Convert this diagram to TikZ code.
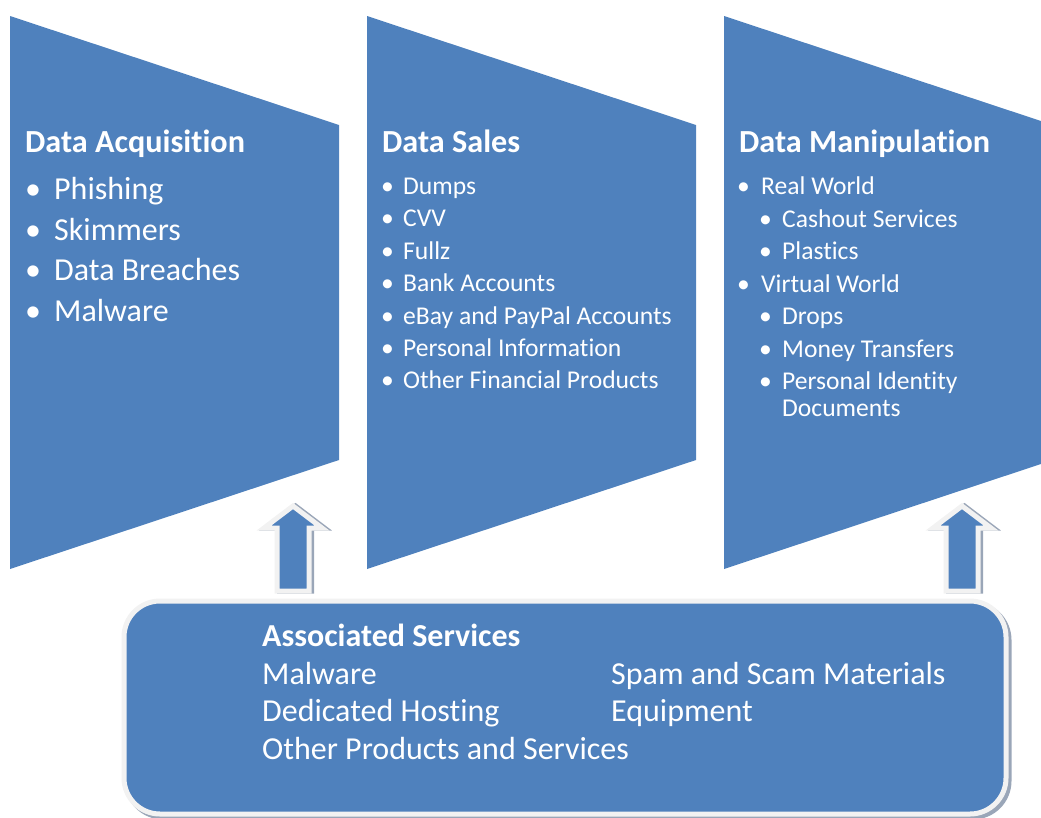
\documentclass[tikz,border=0pt]{standalone}
\usepackage{fontspec}
\setmainfont[Ligatures=NoCommon]{Carlito}
\definecolor{panel}{HTML}{4F81BD}
\definecolor{rim}{HTML}{F2F2F2}
\definecolor{shade}{HTML}{9AA6B8}
\tikzset{
  stagepanel/.style={fill=panel},
  txt/.style={anchor=base west, inner sep=0pt, text=white},
  headline/.style={txt, font=\fontsize{32.2}{38}\selectfont\bfseries},
  bigitem/.style={txt, font=\fontsize{32}{38}\selectfont},
  smallitem/.style={txt, font=\fontsize{25.6}{30}\selectfont},
  svctitle/.style={txt, font=\fontsize{32}{38}\selectfont\bfseries},
  svcitem/.style={txt, font=\fontsize{32}{38}\selectfont},
  rimline/.style={draw=rim, line width=5pt, line join=miter},
  shadowline/.style={draw=shade, fill=shade, line width=5pt, line join=miter},
}
% up arrow centred on #1
\newcommand\uparrowpath[1]{(#1,506) -- (#1+29,528) -- (#1+16,528) -- (#1+16,591) -- (#1-16,591) -- (#1-16,528) -- (#1-29,528) -- cycle}
\begin{document}
\begin{tikzpicture}[x=1pt,y=-1pt]
\useasboundingbox (0,0) rectangle (1041,817);
\clip (0,0) rectangle (1041,817);

% three stage panels
\foreach \x/\n in {10/acq,367/sales,724/manip}
  \fill[stagepanel] (\x,16) coordinate (\n) -- ++(329,109) -- ++(0,335) -- ++(-329,109) -- cycle;

% rising arrows
\foreach \c/\n in {293/arrA,962/arrB}{
  \path[shadowline] \uparrowpath{\c+2.5};
  \path[rimline, fill=panel] \uparrowpath{\c};
}

% associated services box
\path[shadowline, rounded corners=36pt] (127,604) rectangle (1009,817);
\path[rimline, fill=panel, rounded corners=36pt] (124,601) rectangle (1006,814);

% Data Acquisition
\node[headline] (acqT) at (25,152) {Data Acquisition};
\foreach \t [count=\i] in {Phishing,Skimmers,Data Breaches,Malware}{
  \node[bigitem] (acqB\i) at (25,159+40.5*\i) {•};
  \node[bigitem] (acqI\i) at (54,159+40.5*\i) {\t};
}

% Data Sales
\node[headline] (salT) at (382,152) {Data Sales};
\foreach \t [count=\i] in {Dumps,CVV,Fullz,Bank Accounts,eBay and PayPal Accounts,Personal Information,Other Financial Products}{
  \node[smallitem] (salB\i) at (381,162+32.4*\i) {•};
  \node[smallitem] (salI\i) at (403,162+32.4*\i) {\t};
}

% Data Manipulation
\node[headline] (manT) at (739,152) {Data Manipulation};
\foreach \t/\lvl/\y [count=\i] in {Real World/0/194.5,Cashout Services/1/227,Plastics/1/259.5,Virtual World/0/292,Drops/1/324.5,Money Transfers/1/357,Personal Identity/1/389}{
  \node[smallitem] (manB\i) at (737+22*\lvl,\y) {•};
  \node[smallitem] (manI\i) at (761+21*\lvl,\y) {\t};
}
\node[smallitem] (manI8) at (782,416.5) {Documents};

% associated services text
\node[svctitle] (svcT) at (262,646) {Associated Services};
\node[svcitem] (svc1) at (262,684) {Malware};
\node[svcitem] (svc2) at (262,721.5) {Dedicated Hosting};
\node[svcitem] (svc3) at (262,759) {Other Products and Services};
\node[svcitem] (svc4) at (611,684) {Spam and Scam Materials};
\node[svcitem] (svc5) at (611,721.5) {Equipment};
\end{tikzpicture}
\end{document}
